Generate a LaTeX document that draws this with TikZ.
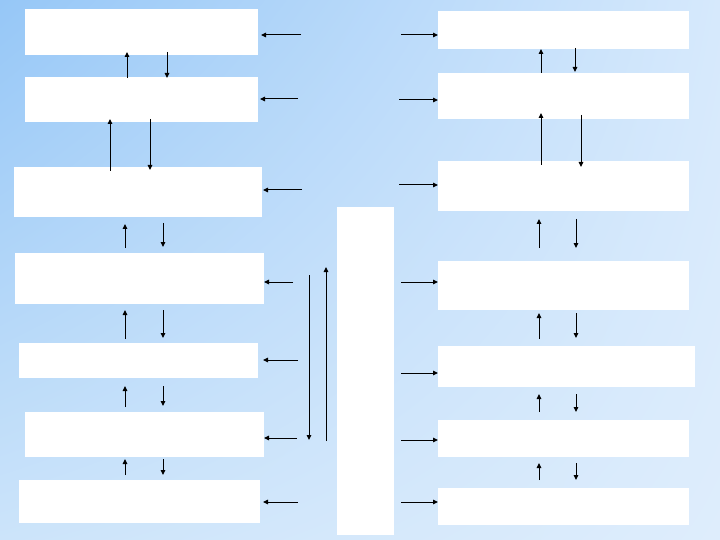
\documentclass[tikz,border=0pt]{standalone}
\usetikzlibrary{arrows.meta,shadings}
\definecolor{bgTL}{RGB}{150,199,247}
\definecolor{bgTR}{RGB}{214,233,252}
\definecolor{bgBL}{RGB}{204,228,250}
\definecolor{bgBR}{RGB}{222,237,252}
\tikzset{
  box/.style={fill=white, draw=none, inner sep=0pt, outer sep=0pt, anchor=north west},
  arr/.style={line width=1pt, -{Triangle[length=5pt,width=4.5pt]}},
  sh/.style 2 args={shorten <=#1pt, shorten >=#2pt}
}
\begin{document}
\begin{tikzpicture}[x=1pt,y=-1pt]
\useasboundingbox (0,0) rectangle (720,540);
\shade[upper left=bgTL, upper right=bgTR, lower left=bgBL, lower right=bgBR] (0,0) rectangle (720,540);
% left column
\node[box, minimum width=233pt, minimum height=46pt] (L1) at (25,9) {};
\node[box, minimum width=233pt, minimum height=45pt] (L2) at (25,77) {};
\node[box, minimum width=248pt, minimum height=50pt] (L3) at (14,167) {};
\node[box, minimum width=249pt, minimum height=51pt] (L4) at (15,253) {};
\node[box, minimum width=239pt, minimum height=35pt] (L5) at (19,343) {};
\node[box, minimum width=239pt, minimum height=45pt] (L6) at (25,412) {};
\node[box, minimum width=241pt, minimum height=43pt] (L7) at (19,480) {};
% centre
\node[box, minimum width=57pt, minimum height=328pt] (C) at (337,207) {};
% right column
\node[box, minimum width=251pt, minimum height=38pt] (R1) at (438,11) {};
\node[box, minimum width=251pt, minimum height=46pt] (R2) at (438,73) {};
\node[box, minimum width=251pt, minimum height=50pt] (R3) at (438,161) {};
\node[box, minimum width=251pt, minimum height=49pt] (R4) at (438,261) {};
\node[box, minimum width=257pt, minimum height=41pt] (R5) at (438,346) {};
\node[box, minimum width=251pt, minimum height=37pt] (R6) at (438,420) {};
\node[box, minimum width=251pt, minimum height=37pt] (R7) at (438,488) {};
% column x positions
\coordinate (xa) at (127,0); \coordinate (xb) at (167,0);
\coordinate (xc) at (110,0); \coordinate (xd) at (150,0);
\coordinate (xe) at (125,0); \coordinate (xf) at (163,0);
\coordinate (xg) at (541,0); \coordinate (xh) at (575,0);
\coordinate (xi) at (581,0); \coordinate (xj) at (539,0);
\coordinate (xk) at (576,0);
% left vertical arrows
\draw[arr, sh={-1}{-3}] (L2.north -| xa) -- (L1.south -| xa);
\draw[arr, sh={-3}{-1}] (L1.south -| xb) -- (L2.north -| xb);
\draw[arr, sh={-4}{-3}] (L3.north -| xc) -- (L2.south -| xc);
\draw[arr, sh={-3}{-3}] (L2.south -| xd) -- (L3.north -| xd);
\draw[arr, sh={5}{7}] (L4.north -| xe) -- (L3.south -| xe);
\draw[arr, sh={6}{6}] (L3.south -| xf) -- (L4.north -| xf);
\draw[arr, sh={4}{6}] (L5.north -| xe) -- (L4.south -| xe);
\draw[arr, sh={6}{5}] (L4.south -| xf) -- (L5.north -| xf);
\draw[arr, sh={5}{8}] (L6.north -| xe) -- (L5.south -| xe);
\draw[arr, sh={8}{6}] (L5.south -| xf) -- (L6.north -| xf);
\draw[arr, sh={5}{2}] (L7.north -| xe) -- (L6.south -| xe);
\draw[arr, sh={2}{5}] (L6.south -| xf) -- (L7.north -| xf);
% right vertical arrows
\draw[arr, sh={0}{0}] (R2.north -| xg) -- (R1.south -| xg);
\draw[arr, sh={-1}{1}] (R1.south -| xh) -- (R2.north -| xh);
\draw[arr, sh={-4}{-6}] (R3.north -| xg) -- (R2.south -| xg);
\draw[arr, sh={-4}{-6}] (R2.south -| xi) -- (R3.north -| xi);
\draw[arr, sh={13}{8}] (R4.north -| xj) -- (R3.south -| xj);
\draw[arr, sh={8}{13}] (R3.south -| xk) -- (R4.north -| xk);
\draw[arr, sh={7}{3}] (R5.north -| xj) -- (R4.south -| xj);
\draw[arr, sh={3}{8}] (R4.south -| xk) -- (R5.north -| xk);
\draw[arr, sh={8}{7}] (R6.north -| xj) -- (R5.south -| xj);
\draw[arr, sh={7}{8}] (R5.south -| xk) -- (R6.north -| xk);
\draw[arr, sh={8}{6}] (R7.north -| xj) -- (R6.south -| xj);
\draw[arr, sh={6}{8}] (R6.south -| xk) -- (R7.north -| xk);
% left horizontal arrows (into left boxes)
\coordinate (a1) at (301,35);  \draw[arr, shorten >=3pt] (a1) -- (a1 -| L1.east);
\coordinate (a2) at (298,99);  \draw[arr, shorten >=2pt] (a2) -- (a2 -| L2.east);
\coordinate (a3) at (302,190); \draw[arr, shorten >=1pt] (a3) -- (a3 -| L3.east);
\coordinate (a4) at (293,282); \draw[arr] (a4) -- (a4 -| L4.east);
\coordinate (a5) at (298,360); \draw[arr, shorten >=5pt] (a5) -- (a5 -| L5.east);
\coordinate (a6) at (297,438); \draw[arr] (a6) -- (a6 -| L6.east);
\coordinate (a7) at (298,502); \draw[arr, shorten >=3pt] (a7) -- (a7 -| L7.east);
% right horizontal arrows (into right boxes)
\coordinate (b1) at (401,35);  \draw[arr] (b1) -- (b1 -| R1.west);
\coordinate (b2) at (399,100); \draw[arr] (b2) -- (b2 -| R2.west);
\coordinate (b3) at (399,185); \draw[arr] (b3) -- (b3 -| R3.west);
\coordinate (b4) at (401,282); \draw[arr] (b4) -- (b4 -| R4.west);
\coordinate (b5) at (401,373); \draw[arr] (b5) -- (b5 -| R5.west);
\coordinate (b6) at (401,440); \draw[arr] (b6) -- (b6 -| R6.west);
\coordinate (b7) at (401,502); \draw[arr] (b7) -- (b7 -| R7.west);
% long vertical arrows
\coordinate (d1) at (309,275); \coordinate (d2) at (309,440);
\draw[arr] (d1) -- (d2);
\coordinate (u1) at (326,441); \coordinate (u2) at (326,267);
\draw[arr] (u1) -- (u2);
\end{tikzpicture}
\end{document}
